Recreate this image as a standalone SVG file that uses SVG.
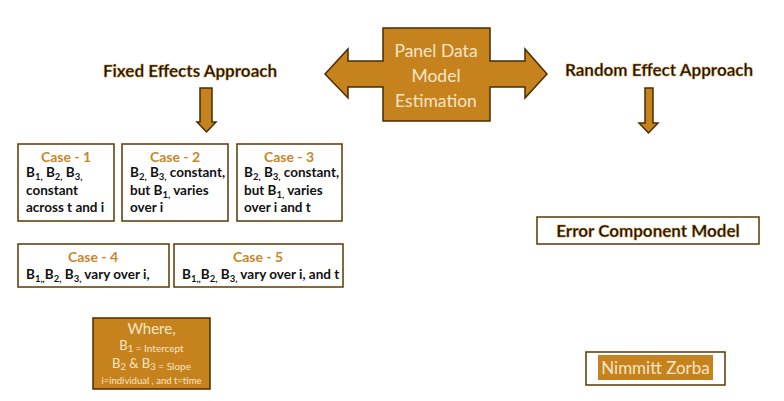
<svg xmlns="http://www.w3.org/2000/svg" width="784" height="401" viewBox="0 0 784 401">
<style>
.bg{fill:#ffffff}
.shape{fill:#c6821d;stroke:#4a2c00;stroke-width:1.5}
.box{fill:#ffffff;stroke:#5a3800;stroke-width:1.5}
.head{font-family:Lato,"Liberation Sans",sans-serif;font-weight:bold;font-size:17px;fill:#1a1000;stroke:#c6821d;stroke-width:0.4;text-anchor:middle}
.light{font-family:Lato,"Liberation Sans",sans-serif;fill:#f6e6c6;text-anchor:middle}
.title{font-family:Lato,"Liberation Sans",sans-serif;font-weight:bold;font-size:14px;fill:#c8862a;text-anchor:middle}
.body{font-family:Lato,"Liberation Sans",sans-serif;font-weight:bold;font-size:13.5px;fill:#111111}
.sub{font-size:9.5px}
</style>
<rect class="bg" x="0" y="0" width="784" height="401"/>

<g id="panel">
<path class="shape" d="M325,74 L348,49 L348,61 L383,61 L383,28 L490,28 L490,61 L525,61 L525,49 L547,74 L525,98 L525,87 L490,87 L490,121 L383,121 L383,87 L348,87 L348,98 Z"/>
<text class="light" font-size="17.5" x="436" y="57">Panel Data</text>
<text class="light" font-size="17.5" x="436" y="82">Model</text>
<text class="light" font-size="17.5" x="436" y="107">Estimation</text>
</g>

<g id="fixed">
<text class="head" x="190" y="77">Fixed Effects Approach</text>
</g>
<g id="random">
<text class="head" x="659" y="76">Random Effect Approach</text>
</g>

<g id="connectors">
<path class="shape" d="M200,88 L212,88 L212,122 L216,122 L206.5,132 L197,122 L200,122 Z"/>
<path class="shape" d="M645,88 L653,88 L653,123 L658,123 L648.5,133 L639,123 L645,123 Z"/>
</g>

<g id="case1">
<rect class="box" x="18" y="144" width="96" height="77"/>
<text class="title" x="66" y="162">Case - 1</text>
<text class="body" x="26" y="177">B<tspan class="sub" dy="3">1,</tspan><tspan dy="-3"> B</tspan><tspan class="sub" dy="3">2,</tspan><tspan dy="-3"> B</tspan><tspan class="sub" dy="3">3,</tspan></text>
<text class="body" x="26" y="195">constant</text>
<text class="body" x="26" y="212">across t and i</text>
</g>

<g id="case2">
<rect class="box" x="122" y="144" width="106" height="77"/>
<text class="title" x="175" y="162">Case - 2</text>
<text class="body" x="130" y="177">B<tspan class="sub" dy="3">2,</tspan><tspan dy="-3"> B</tspan><tspan class="sub" dy="3">3,</tspan><tspan dy="-3"> constant,</tspan></text>
<text class="body" x="130" y="195">but B<tspan class="sub" dy="3">1,</tspan><tspan dy="-3">  varies</tspan></text>
<text class="body" x="130" y="212">over i</text>
</g>

<g id="case3">
<rect class="box" x="237" y="144" width="105" height="77"/>
<text class="title" x="289" y="162">Case - 3</text>
<text class="body" x="244" y="177">B<tspan class="sub" dy="3">2,</tspan><tspan dy="-3"> B</tspan><tspan class="sub" dy="3">3,</tspan><tspan dy="-3"> constant,</tspan></text>
<text class="body" x="244" y="195">but B<tspan class="sub" dy="3">1,</tspan><tspan dy="-3">  varies</tspan></text>
<text class="body" x="244" y="212">over i and t</text>
</g>

<g id="case4">
<rect class="box" x="18" y="244" width="151" height="43"/>
<text class="title" x="93" y="262">Case - 4</text>
<text class="body" x="26" y="279">B<tspan class="sub" dy="3">1,,</tspan><tspan dy="-3">B</tspan><tspan class="sub" dy="3">2,</tspan><tspan dy="-3"> B</tspan><tspan class="sub" dy="3">3,</tspan><tspan dy="-3"> vary over i,</tspan></text>
</g>

<g id="case5">
<rect class="box" x="174" y="244" width="169" height="43"/>
<text class="title" x="258" y="262">Case - 5</text>
<text class="body" x="182" y="279">B<tspan class="sub" dy="3">1,,</tspan><tspan dy="-3">B</tspan><tspan class="sub" dy="3">2,</tspan><tspan dy="-3"> B</tspan><tspan class="sub" dy="3">3,</tspan><tspan dy="-3"> vary over i, and t</tspan></text>
</g>

<g id="where">
<rect class="shape" x="93" y="318" width="117" height="71"/>
<text class="light" font-size="15" x="151.5" y="334">Where,</text>
<text class="light" font-size="13" x="151.5" y="350">B<tspan font-size="9.5" dy="1.5">1</tspan><tspan font-size="10"> = Intercept</tspan></text>
<text class="light" font-size="13" x="151.5" y="368">B<tspan font-size="9.5" dy="1.5">2</tspan><tspan dy="-1.5"> &amp; B</tspan><tspan font-size="9.5" dy="1.5">3</tspan><tspan font-size="10"> = Slope</tspan></text>
<text class="light" font-size="9.5" x="151.5" y="384">i=individual , and t=time</text>
</g>

<g id="error">
<rect class="box" x="537" y="217" width="222" height="27"/>
<text class="head" x="648" y="237" font-size="15.5">Error Component Model</text>
</g>

<g id="author">
<rect class="box" x="586" y="352" width="139" height="33"/>
<rect fill="#c6821d" x="598" y="355" width="115" height="25"/>
<text class="light" font-size="17" x="655.5" y="374">Nimmitt Zorba</text>
</g>
</svg>
